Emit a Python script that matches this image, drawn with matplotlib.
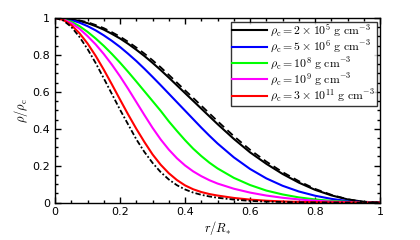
import matplotlib
matplotlib.use("Agg")
import matplotlib.pyplot as plt
from matplotlib.ticker import MultipleLocator, FormatStrFormatter

plt.rcParams['font.family'] = 'DejaVu Sans'
plt.rcParams['mathtext.fontset'] = 'cm'
plt.rcParams['font.size'] = 8

# r / R_* sampling (finer in the steep inner part)
r = [0.0, 0.025, 0.05, 0.075, 0.1, 0.125, 0.15, 0.175, 0.2, 0.225, 0.25,
     0.275, 0.3, 0.325, 0.35, 0.375, 0.4, 0.425, 0.45, 0.475, 0.5,
     0.55, 0.6, 0.65, 0.7, 0.75, 0.8, 0.85, 0.9, 0.95, 1.0]

# rho / rho_c
rho_2e5 = [1.0, 0.998, 0.993, 0.984, 0.972, 0.956, 0.937, 0.914, 0.889, 0.860, 0.828,
           0.794, 0.757, 0.718, 0.677, 0.635, 0.593, 0.551, 0.509, 0.467, 0.425,
           0.345, 0.272, 0.210, 0.155, 0.108, 0.069, 0.039, 0.017, 0.004, 0.0]
rho_5e6 = [1.0, 0.997, 0.989, 0.975, 0.956, 0.933, 0.906, 0.876, 0.843, 0.806, 0.767,
           0.725, 0.681, 0.636, 0.590, 0.544, 0.498, 0.452, 0.406, 0.362, 0.320,
           0.245, 0.182, 0.131, 0.091, 0.060, 0.037, 0.020, 0.008, 0.002, 0.0]
rho_1e8 = [1.0, 0.995, 0.980, 0.956, 0.925, 0.889, 0.849, 0.805, 0.758, 0.708, 0.656,
           0.603, 0.550, 0.497, 0.440, 0.388, 0.338, 0.292, 0.252, 0.216, 0.185,
           0.134, 0.095, 0.065, 0.044, 0.028, 0.017, 0.009, 0.004, 0.001, 0.0]
rho_1e9 = [1.0, 0.993, 0.973, 0.942, 0.902, 0.857, 0.805, 0.747, 0.684, 0.616, 0.545,
           0.474, 0.405, 0.342, 0.287, 0.240, 0.201, 0.169, 0.143, 0.121, 0.103,
           0.075, 0.054, 0.038, 0.026, 0.017, 0.010, 0.005, 0.002, 0.0005, 0.0]
rho_3e11 = [1.0, 0.990, 0.962, 0.918, 0.862, 0.795, 0.720, 0.640, 0.558, 0.477, 0.400,
            0.328, 0.261, 0.205, 0.159, 0.122, 0.093, 0.072, 0.057, 0.046, 0.038,
            0.025, 0.016, 0.010, 0.006, 0.0035, 0.002, 0.001, 0.0005, 0.0, 0.0]
# limiting profiles (dashed: low density, dash-dot: high density)
rho_low = [1.0, 0.999, 0.995, 0.987, 0.977, 0.962, 0.945, 0.923, 0.899, 0.871, 0.840,
           0.807, 0.771, 0.733, 0.692, 0.650, 0.608, 0.567, 0.525, 0.483, 0.441,
           0.360, 0.286, 0.222, 0.165, 0.116, 0.074, 0.042, 0.018, 0.003, 0.0]
rho_high = [1.0, 0.987, 0.952, 0.898, 0.832, 0.756, 0.673, 0.588, 0.503, 0.423, 0.343,
            0.274, 0.215, 0.165, 0.125, 0.094, 0.071, 0.054, 0.042, 0.033, 0.026,
            0.016, 0.009, 0.005, 0.003, 0.0015, 0.0007, 0.0003, 0.0, 0.0, 0.0]

labels = [r'$\rho_{\rm c} = 2 \times 10^{5}\ {\rm g\ cm^{-3}}$',
          r'$\rho_{\rm c} = 5 \times 10^{6}\ {\rm g\ cm^{-3}}$',
          r'$\rho_{\rm c} = 10^{8}\ {\rm g\ cm^{-3}}$',
          r'$\rho_{\rm c} = 10^{9}\ {\rm g\ cm^{-3}}$',
          r'$\rho_{\rm c} = 3 \times 10^{11}\ {\rm g\ cm^{-3}}$']
series = [rho_2e5, rho_5e6, rho_1e8, rho_1e9, rho_3e11]
line_colors = ['k', (0, 0, 1), (0, 1, 0), (1, 0, 1), (1, 0, 0)]

fig = plt.figure(figsize=(4.2, 2.4), dpi=100, facecolor='white')
ax = fig.add_axes([0.131, 0.156, 0.774, 0.769])

for ys, c, lab in zip(series, line_colors, labels):
    ax.plot(r, ys, color=c, lw=1.5, label=lab)
ax.plot(r, rho_low, color='k', lw=1.3, ls=(0, (4, 2.5)))
ax.plot(r, rho_high, color='k', lw=1.3, ls=(0, (3, 1.2, 1, 1.2)))

ax.set_xlim(0, 1)
ax.set_ylim(0, 1)
ax.xaxis.set_major_locator(MultipleLocator(0.2))
ax.yaxis.set_major_locator(MultipleLocator(0.2))
ax.xaxis.set_minor_locator(MultipleLocator(0.05))
ax.yaxis.set_minor_locator(MultipleLocator(0.05))
ax.xaxis.set_major_formatter(FormatStrFormatter('%g'))
ax.yaxis.set_major_formatter(FormatStrFormatter('%g'))
ax.tick_params(which='both', direction='in', top=True, right=True, width=1)
ax.tick_params(which='major', length=4, labelsize=8)
ax.tick_params(which='minor', length=2.5)
for sp in ax.spines.values():
    sp.set_linewidth(1)

ax.set_xlabel(r'$r/R_{*}$', fontsize=9, labelpad=1)
ax.set_ylabel(r'$\rho/\rho_{\rm c}$', fontsize=9, labelpad=2)

leg = ax.legend(loc='upper right', fontsize=8.5, frameon=True, fancybox=False,
                edgecolor='k', borderpad=0.1, labelspacing=0.0, handlelength=3.0,
                handletextpad=0.25, borderaxespad=0.3)
leg.get_frame().set_linewidth(1)

fig.savefig('out.png', dpi=100, facecolor='white')
